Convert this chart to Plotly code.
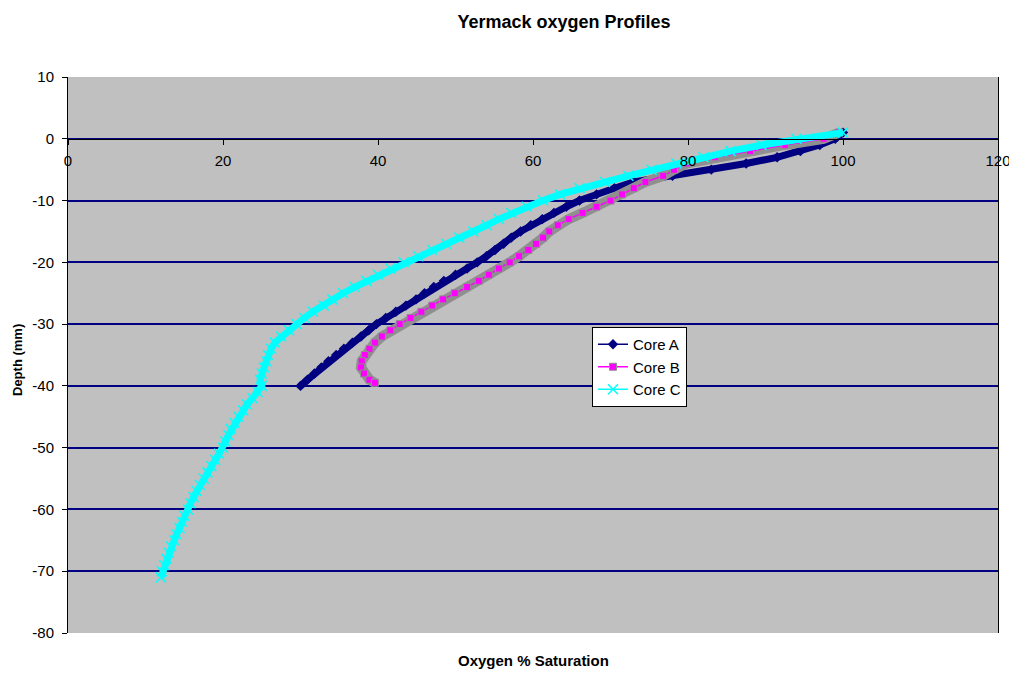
import plotly.graph_objects as go

# ---- data ----
depth_a = [1, 0, -1, -2, -3, -4, -5, -6, -7, -8, -9, -10, -11, -12, -13, -14, -15, -16, -17, -18, -19, -20,
           -21, -22, -23, -24, -25, -26, -27, -28, -29, -30, -31, -32, -33, -34, -35, -36, -37, -38, -39, -40]
oxy_a = [100, 99, 97, 94.5, 91.5, 87.5, 83, 78, 73, 70.5, 68.2, 66, 64.3, 62.7, 61.2, 59.7, 58.4, 57.2, 56.2,
         55.1, 54, 52.8, 51.5, 50, 48.5, 47.2, 46, 44.9, 43.6, 42.3, 41, 39.8, 38.8, 37.8, 36.7, 35.6, 34.6,
         33.6, 32.7, 31.8, 30.9, 30]

depth_b = [1, 0, -1, -2, -3, -4, -5, -6, -7, -8, -9, -10, -11, -12, -13, -14, -15, -16, -17, -18, -19, -20,
           -21, -22, -23, -24, -25, -26, -27, -28, -29, -30, -31, -32, -33, -34, -35, -36, -37, -38, -39, -39.5]
oxy_b = [99.5, 97.5, 92.5, 88, 83.5, 79.8, 78.2, 76.8, 74.5, 73, 71.5, 70, 68.2, 66.4, 64.6, 63.2, 62.1, 61.3,
         60.4, 59.4, 58.2, 57, 55.6, 54.3, 53, 51.5, 49.9, 48.4, 47, 45.6, 44.2, 42.8, 41.6, 40.5, 39.6, 38.9,
         38.3, 37.9, 37.8, 38.2, 38.9, 39.6]

depth_c = [1, 0, -1, -2, -3, -4, -5, -6, -7, -8, -9, -10, -11, -12, -13, -14, -15, -16, -17, -18, -19, -20,
           -21, -22, -23, -24, -25, -26, -27, -28, -29, -30, -31, -32, -33, -34, -35, -36, -37, -38, -39, -40,
           -41, -42, -43, -44, -45, -46, -47, -48, -49, -50, -51, -52, -53, -54, -55, -56, -57, -58, -59, -60,
           -61, -62, -63, -64, -65, -66, -67, -68, -69, -70, -71]
oxy_c = [100, 94, 89.5, 85.5, 82, 78.5, 75.3, 72.3, 69.3, 66, 63.5, 61.3, 59.2, 57.2, 55.6, 54, 52.3, 50.5,
         48.8, 47, 45.2, 43.3, 41.6, 40, 38.5, 37, 35.5, 34.1, 33, 31.6, 30.5, 29.5, 28.5, 27.5, 26.7, 26.2,
         25.8, 25.6, 25.3, 25, 24.8, 25, 24.5, 23.8, 23.1, 22.6, 22, 21.5, 21, 20.7, 20.3, 20, 19.5, 19, 18.5,
         18, 17.5, 17, 16.6, 16.2, 15.8, 15.5, 15, 14.7, 14.4, 14, 13.7, 13.3, 13, 12.7, 12.4, 12.1, 12]

series_names = ["Core A", "Core B", "Core C"]
tick_x = [0, 20, 40, 60, 80, 100, 120]
tick_y = [10, 0, -10, -20, -30, -40, -50, -60, -70, -80]

FONT = "Arial, Liberation Sans, sans-serif"

# page body has an 8px default margin, so the figure is drawn at (8, 8)
OFF = 8
W, H = 1017 - OFF, 675 - OFF

fig = go.Figure()

# Core A
fig.add_trace(go.Scatter(x=oxy_a, y=depth_a, mode="lines", line=dict(color="#000080", width=7),
                         showlegend=False, hoverinfo="skip"))
fig.add_trace(go.Scatter(x=oxy_a, y=depth_a, mode="lines+markers", name=series_names[0],
                         line=dict(color="#000080", width=1.5),
                         marker=dict(symbol="diamond", size=8, color="#000080")))
# Core B
fig.add_trace(go.Scatter(x=oxy_b, y=depth_b, mode="lines", line=dict(color="#8f8f8f", width=10),
                         showlegend=False, hoverinfo="skip"))
fig.add_trace(go.Scatter(x=oxy_b, y=depth_b, mode="lines+markers", name=series_names[1],
                         line=dict(color="#FF00FF", width=1.5),
                         marker=dict(symbol="square", size=7, color="#FF00FF",
                                     line=dict(color="#8f8f8f", width=1))))
# Core C
fig.add_trace(go.Scatter(x=oxy_c, y=depth_c, mode="lines", line=dict(color="#00FFFF", width=7),
                         showlegend=False, hoverinfo="skip"))
fig.add_trace(go.Scatter(x=oxy_c, y=depth_c, mode="lines+markers", name=series_names[2],
                         line=dict(color="#00FFFF", width=1.5),
                         marker=dict(symbol="x-thin", size=10, color="#00FFFF",
                                     line=dict(color="#00FFFF", width=1.5))))

fig.update_layout(
    width=W, height=H,
    margin=dict(l=68 - OFF, r=19, t=77 - OFF, b=42, autoexpand=False),
    paper_bgcolor="white",
    plot_bgcolor="#C0C0C0",
    font=dict(family=FONT, size=15, color="black"),
    title=dict(text="<b>Yermack oxygen Profiles</b>", x=(564 - OFF) / W, xanchor="center",
               y=1 - (22 - OFF) / H, yref="container", yanchor="middle",
               font=dict(family=FONT, size=18, color="black")),
    legend=dict(x=(592 - 68) / 930, y=(633 - 327) / 556, xanchor="left", yanchor="top",
                bgcolor="white", bordercolor="black", borderwidth=1,
                font=dict(family=FONT, size=15, color="black"), tracegroupgap=0),
    showlegend=True,
    xaxis=dict(range=[0, 120], tickvals=tick_x, ticktext=[str(v) for v in tick_x],
               anchor="free", position=(633 - 139) / 556,
               showline=True, linecolor="black", linewidth=1,
               ticks="outside", ticklen=5, tickcolor="black", ticklabelstandoff=3,
               showgrid=False, zeroline=False,
               tickfont=dict(family=FONT, size=15, color="black")),
    yaxis=dict(range=[-80, 10], tickvals=tick_y, ticktext=[str(v) for v in tick_y],
               showline=True, linecolor="black", linewidth=1, mirror=True,
               ticks="outside", ticklen=5, tickcolor="black", ticklabelstandoff=5,
               showgrid=True, gridcolor="#000080", gridwidth=1.5, zeroline=False,
               tickfont=dict(family=FONT, size=15, color="black")),
    annotations=[
        dict(text="<b>Oxygen % Saturation</b>", xref="paper", yref="paper",
             x=(533 - 68) / 930, y=-27 / 556, xanchor="center", yanchor="middle", showarrow=False,
             font=dict(family=FONT, size=15, color="black")),
        dict(text="<b>Depth (mm)</b>", xref="paper", yref="paper",
             x=(18 - 68) / 930, y=(633 - 360) / 556, xanchor="center", yanchor="middle",
             textangle=-90, showarrow=False,
             font=dict(family=FONT, size=13, color="black")),
    ],
)

fig.write_html("out.html")
